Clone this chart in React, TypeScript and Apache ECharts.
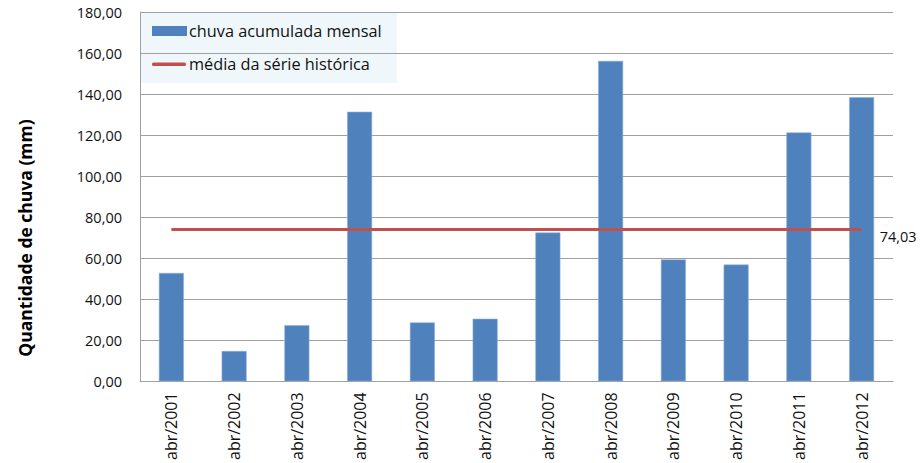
import React, { useEffect, useRef } from "react";
import * as echarts from "echarts";

const categories = ["abr/2001", "abr/2002", "abr/2003", "abr/2004", "abr/2005", "abr/2006", "abr/2007", "abr/2008", "abr/2009", "abr/2010", "abr/2011", "abr/2012"];
const rainValues = [52.8, 14.8, 27.4, 131.4, 28.7, 30.5, 72.5, 156.2, 59.4, 56.9, 121.3, 138.5];
const meanValue = 74.03;
const meanValues = categories.map(() => meanValue);
const barName = "chuva acumulada mensal";
const lineName = "média da série histórica";
const yAxisTitle = "Quantidade de chuva (mm)";

const FONT = "'Open Sans', sans-serif";
const BAR_COLOR = "#4F81BD";
const LINE_COLOR = "#C0504D";

export default function App() {
  const ref = useRef<HTMLDivElement>(null);
  useEffect(() => {
    document.body.style.margin = "0";
    const chart = echarts.init(ref.current!, null, { renderer: "svg" });
    chart.setOption({
      animation: false,
      backgroundColor: "#ffffff",
      textStyle: { fontFamily: FONT },
      grid: { left: 140, right: 30, top: 12, bottom: 81, containLabel: false },
      legend: { show: false },
      graphic: [
        {
          type: "text",
          x: 25,
          y: 238,
          rotation: Math.PI / 2,
          style: {
            text: yAxisTitle,
            fontFamily: FONT,
            fontSize: 17.5,
            fontWeight: "bold",
            fill: "#000",
            textAlign: "center",
            textVerticalAlign: "middle",
          },
        },
        {
          type: "group",
          left: 141,
          top: 13,
          children: [
            { type: "rect", shape: { x: 0, y: 0, width: 256, height: 70 }, style: { fill: "#F0F7FA" } },
            { type: "rect", shape: { x: 11, y: 13, width: 35, height: 10 }, style: { fill: BAR_COLOR } },
            { type: "rect", shape: { x: 11, y: 49.5, width: 34, height: 3.5, r: 1.5 }, style: { fill: LINE_COLOR } },
            {
              type: "text",
              x: 48,
              y: 18,
              style: { text: barName, fontFamily: FONT, fontSize: 16.3, fill: "#111", textVerticalAlign: "middle" },
            },
            {
              type: "text",
              x: 48,
              y: 51,
              style: { text: lineName, fontFamily: FONT, fontSize: 16.3, fill: "#111", textVerticalAlign: "middle" },
            },
          ],
        },
      ],
      xAxis: {
        type: "category",
        data: categories,
        axisLine: { lineStyle: { color: "#A0A0A0", width: 1 } },
        axisTick: { show: false },
        axisLabel: { rotate: 90, fontFamily: FONT, fontSize: 16, color: "#111", margin: 11 },
      },
      yAxis: {
        type: "value",
        min: 0,
        max: 180,
        interval: 20,
        axisLine: { show: true, lineStyle: { color: "#A0A0A0", width: 1 } },
        axisTick: { show: false },
        splitLine: { lineStyle: { color: "#A0A0A0", width: 1 } },
        axisLabel: {
          fontFamily: FONT,
          fontSize: 14.5,
          color: "#111",
          margin: 18,
          formatter: (v: number) => v.toFixed(2).replace(".", ","),
        },
      },
      series: [
        {
          name: barName,
          type: "bar",
          data: rainValues,
          barWidth: 25,
          itemStyle: { color: BAR_COLOR, borderColor: "#8FB0DA", borderWidth: 0.6 },
        },
        {
          name: lineName,
          type: "line",
          data: meanValues,
          symbol: "none",
          lineStyle: { color: LINE_COLOR, width: 3 },
          itemStyle: { color: LINE_COLOR },
          endLabel: {
            show: true,
            offset: [10, 7],
            formatter: () => meanValue.toFixed(2).replace(".", ","),
            fontFamily: FONT,
            fontSize: 14.5,
            color: "#111",
          },
        },
      ],
    });
    return () => chart.dispose();
  }, []);
  return <div ref={ref} style={{ width: 923, height: 463 }} />;
}
